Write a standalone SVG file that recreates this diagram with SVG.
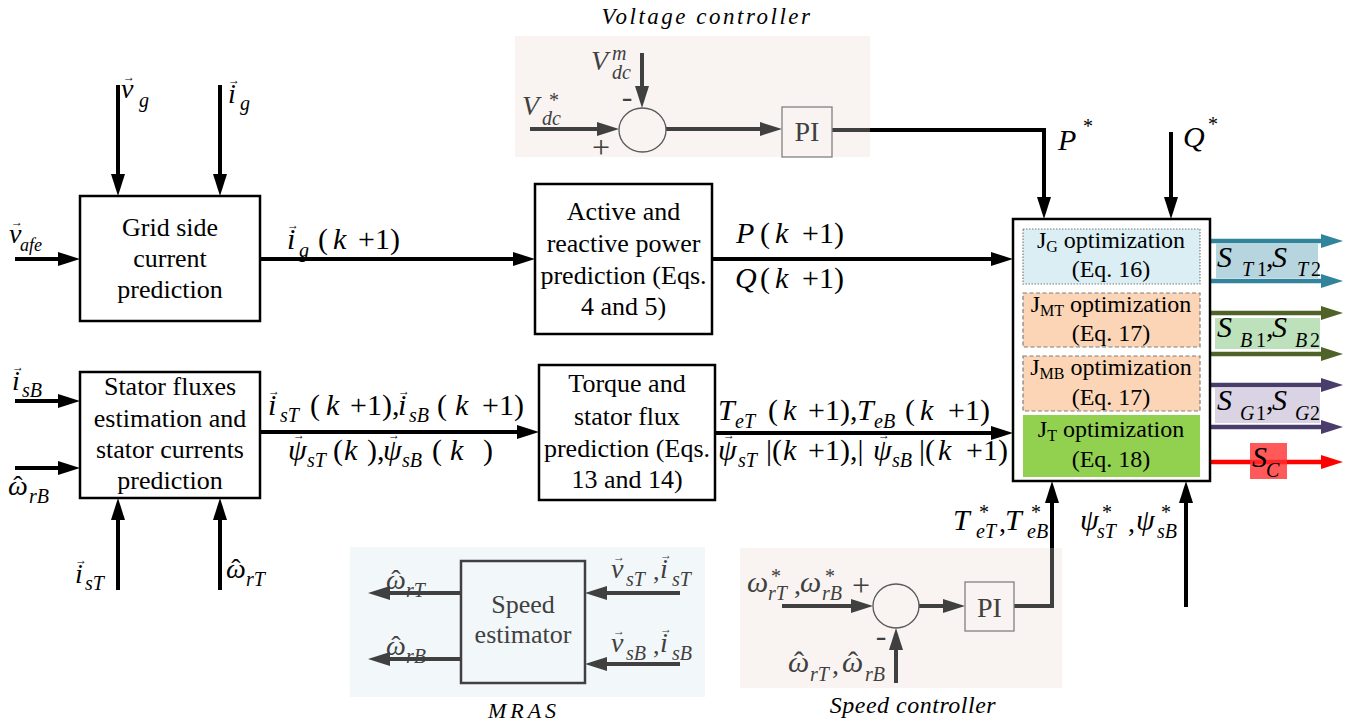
<svg xmlns="http://www.w3.org/2000/svg" width="1362" height="727" viewBox="0 0 1362 727" font-family="Liberation Serif, serif">
<style>
text{font-family:"Liberation Serif","DejaVu Serif",serif;fill:#000}
.bt{font-size:26px;text-anchor:middle}
.ot{font-size:24px;text-anchor:middle}
.m{font-style:italic;font-size:30px}
.mm{font-style:italic;font-size:28px}
.s{font-size:20px}
.u{font-style:normal}
.star{font-style:normal;font-size:20px}
.ar{font-style:normal;font-size:12px;text-anchor:middle}
.hat{font-style:normal;text-anchor:middle}
.g{fill:#404040}
.ti{font-style:italic;text-anchor:middle}
.box{fill:#fff;stroke:#000;stroke-width:2.5}
.k{fill:none;stroke:#000;stroke-width:4}
.kg{fill:none;stroke:#404040;stroke-width:4}
.ct{fill:none;stroke:#31849b;stroke-width:4.5}
.co{fill:none;stroke:#4f6228;stroke-width:4.5}
.cp{fill:none;stroke:#4b3d6b;stroke-width:4.5}
.cr{fill:none;stroke:#ff0000;stroke-width:4.5}
.pi{stroke:#808080;stroke-width:1.3}
.sum{fill:none;stroke:#595959;stroke-width:1.3}
.sub{stroke:#7f7f7f;stroke-width:1.2}
.sign{font-size:32px;text-anchor:middle}
</style>
<defs>
<marker id="mk" markerUnits="userSpaceOnUse" markerWidth="22" markerHeight="14" refX="2" refY="7" orient="auto"><path d="M0,0L22,7L0,14z" fill="#000"/></marker>
<marker id="mg" markerUnits="userSpaceOnUse" markerWidth="22" markerHeight="14" refX="2" refY="7" orient="auto"><path d="M0,0L22,7L0,14z" fill="#404040"/></marker>
<marker id="mt" markerUnits="userSpaceOnUse" markerWidth="22" markerHeight="14" refX="2" refY="7" orient="auto"><path d="M0,0L22,7L0,14z" fill="#31849b"/></marker>
<marker id="mo" markerUnits="userSpaceOnUse" markerWidth="22" markerHeight="14" refX="2" refY="7" orient="auto"><path d="M0,0L22,7L0,14z" fill="#4f6228"/></marker>
<marker id="mp" markerUnits="userSpaceOnUse" markerWidth="22" markerHeight="14" refX="2" refY="7" orient="auto"><path d="M0,0L22,7L0,14z" fill="#4b3d6b"/></marker>
<marker id="mr" markerUnits="userSpaceOnUse" markerWidth="22" markerHeight="14" refX="2" refY="7" orient="auto"><path d="M0,0L22,7L0,14z" fill="#ff0000"/></marker>
</defs>

<!-- controller backgrounds -->
<g id="voltage-controller-bg"><rect x="515" y="36" width="355" height="121" fill="#f9f4f2"/></g>
<g id="speed-controller-bg"><rect x="740" y="548" width="322" height="140" fill="#f9f4f2"/></g>
<g id="mras-bg"><rect x="350" y="547" width="355" height="150" fill="#f2f7fa"/></g>

<!-- connectors -->
<g id="connectors">
<path class="k" d="M118,85V176" marker-end="url(#mk)"/>
<path class="k" d="M220,85V176" marker-end="url(#mk)"/>
<path class="k" d="M15,259H60" marker-end="url(#mk)"/>
<path class="k" d="M260,259H515" marker-end="url(#mk)"/>
<path class="k" d="M712,259H993" marker-end="url(#mk)"/>
<path class="k" d="M15,401H60" marker-end="url(#mk)"/>
<path class="k" d="M15,468H60" marker-end="url(#mk)"/>
<path class="k" d="M118,590V518" marker-end="url(#mk)"/>
<path class="k" d="M220,590V518" marker-end="url(#mk)"/>
<path class="k" d="M260,432H519" marker-end="url(#mk)"/>
<path class="k" d="M715,433H993" marker-end="url(#mk)"/>
<path class="kg" d="M832,130H870"/>
<path class="k" d="M870,130H1044V199" marker-end="url(#mk)"/>
<path class="k" d="M1171,132V199" marker-end="url(#mk)"/>
<path class="kg" d="M1014,606H1052V548"/>
<path class="k" d="M1052,548V501" marker-end="url(#mk)"/>
<path class="k" d="M1186,607V501" marker-end="url(#mk)"/>
<path class="kg" d="M642,53V88" marker-end="url(#mg)"/>
<path class="kg" d="M530,129H599" marker-end="url(#mg)"/>
<path class="kg" d="M666,129H762" marker-end="url(#mg)"/>
<path class="kg" d="M782,606H853" marker-end="url(#mg)"/>
<path class="kg" d="M896,683V648" marker-end="url(#mg)"/>
<path class="kg" d="M919,606H945" marker-end="url(#mg)"/>
<path class="kg" d="M461,593H388" marker-end="url(#mg)"/>
<path class="kg" d="M461,659H388" marker-end="url(#mg)"/>
<path class="kg" d="M680,593H605" marker-end="url(#mg)"/>
<path class="kg" d="M680,664H605" marker-end="url(#mg)"/>
<path class="ct" d="M1208,241H1323" marker-end="url(#mt)"/>
<path class="ct" d="M1208,281H1323" marker-end="url(#mt)"/>
<path class="co" d="M1208,313H1323" marker-end="url(#mo)"/>
<path class="co" d="M1208,354H1323" marker-end="url(#mo)"/>
<path class="cp" d="M1208,385H1323" marker-end="url(#mp)"/>
<path class="cp" d="M1208,427H1323" marker-end="url(#mp)"/>
<path class="cr" d="M1208,462H1323" marker-end="url(#mr)"/>
</g>

<!-- voltage controller -->
<g id="voltage-controller">
<text class="ti" x="707" y="24" font-size="23" letter-spacing="2.5">Voltage controller</text>
<ellipse class="sum" cx="642.5" cy="130" rx="23.5" ry="22"/>
<rect class="pi" x="782" y="107" width="50" height="50" fill="#f9f4f2"/>
<text class="g" x="807" y="141" font-size="28" text-anchor="middle">PI</text>
<text class="mm g" x="591" y="70">V<tspan class="s" x="612" y="60">m</tspan><tspan class="s" x="612" y="79">dc</tspan></text>
<text class="mm g" x="522" y="115">V<tspan class="star" x="549" y="107">*</tspan><tspan class="s" x="542" y="125">dc</tspan></text>
<text class="sign g" x="627" y="107">-</text>
<text class="sign g" x="601" y="158">+</text>
</g>

<!-- grid side -->
<g id="grid-side-current-prediction">
<rect class="box" x="80" y="196" width="180" height="125"/>
<text class="bt" x="170" y="236">Grid side</text>
<text class="bt" x="170" y="267">current</text>
<text class="bt" x="170" y="298">prediction</text>
</g>
<g id="stator-fluxes-estimation">
<rect class="box" x="80" y="372" width="180" height="126"/>
<text class="bt" x="170" y="395">Stator fluxes</text>
<text class="bt" x="170" y="427">estimation and</text>
<text class="bt" x="170" y="458">stator currents</text>
<text class="bt" x="170" y="489">prediction</text>
</g>
<g id="power-prediction">
<rect class="box" x="535" y="184" width="177" height="150"/>
<text class="bt" x="623.5" y="220">Active and</text>
<text class="bt" x="623.5" y="252">reactive power</text>
<text class="bt" x="623.5" y="284">prediction (Eqs.</text>
<text class="bt" x="623.5" y="315">4 and 5)</text>
</g>
<g id="torque-flux-prediction">
<rect class="box" x="539" y="365" width="176" height="135"/>
<text class="bt" x="627" y="392">Torque and</text>
<text class="bt" x="627" y="425">stator flux</text>
<text class="bt" x="627" y="457">prediction (Eqs.</text>
<text class="bt" x="627" y="488">13 and 14)</text>
</g>

<!-- optimization block -->
<g id="optimization">
<rect class="box" x="1013" y="219" width="197" height="262"/>
<rect class="sub" x="1023" y="229" width="177" height="55" fill="#daeef3" stroke-dasharray="1.5,1.5"/>
<rect class="sub" x="1023" y="293" width="177" height="54" fill="#fbd5b5" stroke-dasharray="4,2.5"/>
<rect class="sub" x="1023" y="356" width="177" height="55" fill="#fbd5b5" stroke-dasharray="4,2.5"/>
<rect x="1023" y="415" width="177" height="62" fill="#92d050"/>
<text class="ot" x="1111" y="248">J<tspan font-size="16" dy="4">G</tspan><tspan dy="-4"> optimization</tspan></text>
<text class="ot" x="1111" y="277">(Eq. 16)</text>
<text class="ot" x="1111" y="312">J<tspan font-size="16" dy="4">MT</tspan><tspan dy="-4"> optimization</tspan></text>
<text class="ot" x="1111" y="341">(Eq. 17)</text>
<text class="ot" x="1111" y="375">J<tspan font-size="16" dy="4">MB</tspan><tspan dy="-4"> optimization</tspan></text>
<text class="ot" x="1111" y="405">(Eq. 17)</text>
<text class="ot" x="1111" y="437">J<tspan font-size="16" dy="4">T</tspan><tspan dy="-4"> optimization</tspan></text>
<text class="ot" x="1111" y="467">(Eq. 18)</text>
</g>

<!-- speed controller -->
<g id="speed-controller">
<ellipse class="sum" cx="896" cy="606" rx="23" ry="22"/>
<rect class="pi" x="965" y="582" width="49" height="49" fill="#f9f4f2"/>
<text class="g" x="989.5" y="617" font-size="28" text-anchor="middle">PI</text>
<text class="sign g" x="861" y="596">+</text>
<text class="sign g" x="881" y="646">-</text>
<text class="m g" x="747" y="592">ω<tspan class="star" x="771" y="583">*</tspan><tspan class="s" x="768" y="600">rT</tspan><tspan class="u" x="794" y="594" font-size="28">,</tspan><tspan x="800" y="592">ω</tspan><tspan class="star" x="825" y="583">*</tspan><tspan class="s" x="822" y="600">rB</tspan></text>
<text class="m g" x="788" y="672">ω<tspan class="hat" x="799" y="672">ˆ</tspan><tspan class="s" x="810" y="681">rT</tspan><tspan class="u" x="832" y="674" font-size="28">,</tspan><tspan x="842" y="672">ω</tspan><tspan class="hat" x="853" y="672">ˆ</tspan><tspan class="s" x="865" y="681">rB</tspan></text>
<text class="ti" x="913" y="713" font-size="24" letter-spacing="0.5">Speed controller</text>
</g>

<!-- MRAS -->
<g id="mras-speed-estimator">
<rect x="461" y="561" width="124" height="122" fill="none" stroke="#404040" stroke-width="2.5"/>
<text class="bt g" x="523" y="613">Speed</text>
<text class="bt g" x="523" y="643">estimator</text>
<text class="mm g" x="386" y="589">ω<tspan class="hat" x="396" y="589">ˆ</tspan><tspan class="s" x="406" y="597">rT</tspan></text>
<text class="mm g" x="386" y="655">ω<tspan class="hat" x="396" y="655">ˆ</tspan><tspan class="s" x="406" y="663">rB</tspan></text>
<text class="mm g" x="611" y="578">v<tspan class="ar" x="619" y="561">→</tspan><tspan class="s" x="626" y="586">sT</tspan><tspan class="u" x="653" y="580" font-size="26">,</tspan><tspan x="660" y="578">i</tspan><tspan class="ar" x="666" y="559">→</tspan><tspan class="s" x="672" y="586">sT</tspan></text>
<text class="mm g" x="611" y="652">v<tspan class="ar" x="619" y="635">→</tspan><tspan class="s" x="626" y="660">sB</tspan><tspan class="u" x="653" y="654" font-size="26">,</tspan><tspan x="660" y="652">i</tspan><tspan class="ar" x="666" y="633">→</tspan><tspan class="s" x="672" y="660">sB</tspan></text>
<text class="ti" x="524" y="718" font-size="22" letter-spacing="4">MRAS</text>
</g>

<!-- output label boxes -->
<g id="outputs">
<rect x="1216" y="243" width="102" height="35" fill="#b7d5de"/>
<rect x="1215" y="318" width="105" height="31" fill="#bde2bb"/>
<rect x="1215" y="388" width="105" height="35" fill="#d9d3e4"/>
<rect x="1250" y="443" width="37" height="36" fill="#ff3030" fill-opacity="0.8"/>
<text class="m" x="1217" y="267">S<tspan class="s" x="1242" y="276">T</tspan><tspan class="s u" x="1257">1</tspan><tspan class="u" x="1266" y="267">,</tspan><tspan x="1272">S</tspan><tspan class="s" x="1297" y="276">T</tspan><tspan class="s u" x="1311">2</tspan></text>
<text class="m" x="1217" y="337">S<tspan class="s" x="1240" y="347">B</tspan><tspan class="s u" x="1256">1</tspan><tspan class="u" x="1266" y="337">,</tspan><tspan x="1272">S</tspan><tspan class="s" x="1295" y="347">B</tspan><tspan class="s u" x="1310">2</tspan></text>
<text class="m" x="1217" y="410">S<tspan class="s" x="1240" y="420">G</tspan><tspan class="s u" x="1256">1</tspan><tspan class="u" x="1266" y="410">,</tspan><tspan x="1272">S</tspan><tspan class="s" x="1295" y="420">G</tspan><tspan class="s u" x="1310">2</tspan></text>
<text class="m" x="1252" y="467">S<tspan class="s" x="1266" y="477">C</tspan></text>
</g>

<!-- connector labels -->
<g id="labels">
<text class="mm" x="121" y="98">v<tspan class="ar" x="129" y="81">→</tspan><tspan class="s" x="139" y="107">g</tspan></text>
<text class="mm" x="228" y="103">i<tspan class="ar" x="234" y="84">→</tspan><tspan class="s" x="240" y="110">g</tspan></text>
<text class="mm" x="9" y="243">v<tspan class="ar" x="17" y="226">→</tspan><tspan font-size="18" x="20" y="251">afe</tspan></text>
<text class="mm" x="12" y="390">i<tspan class="ar" x="18" y="371">→</tspan><tspan class="s" x="22" y="397">sB</tspan></text>
<text class="mm" x="8" y="495">ω<tspan class="hat" x="18" y="495">ˆ</tspan><tspan class="s" x="29" y="503">rB</tspan></text>
<text class="mm" x="75" y="583">i<tspan class="ar" x="81" y="564">→</tspan><tspan class="s" x="85" y="590">sT</tspan></text>
<text class="mm" x="226" y="578">ω<tspan class="hat" x="236" y="578">ˆ</tspan><tspan class="s" x="246" y="586">rT</tspan></text>

<text class="m" x="287" y="249">i<tspan class="ar" x="293" y="229">→</tspan><tspan class="s" x="299" y="257">g</tspan><tspan class="u" x="318" y="249">(</tspan><tspan x="333">k</tspan><tspan class="u" x="358">+1)</tspan></text>
<text class="m" x="736" y="243">P<tspan class="u" x="760">(</tspan><tspan x="775">k</tspan><tspan class="u" x="802">+1)</tspan></text>
<text class="m" x="735" y="288">Q<tspan class="u" x="760">(</tspan><tspan x="775">k</tspan><tspan class="u" x="802">+1)</tspan></text>

<text class="m" x="268" y="415">i<tspan class="ar" x="274" y="395">→</tspan><tspan class="s" x="280" y="422">sT</tspan><tspan class="u" x="310" y="415">(</tspan><tspan x="326">k</tspan><tspan class="u" x="350">+1),</tspan><tspan x="398">i</tspan><tspan class="ar" x="404" y="395">→</tspan><tspan class="s" x="409" y="422">sB</tspan><tspan class="u" x="437" y="415">(</tspan><tspan x="455">k</tspan><tspan class="u" x="482">+1)</tspan></text>
<text class="m" x="288" y="460">ψ<tspan class="ar" x="299" y="439">→</tspan><tspan class="s" x="307" y="467">sT</tspan><tspan class="u" x="333" y="460">(</tspan><tspan x="344">k</tspan><tspan class="u" x="367">),</tspan><tspan x="383">ψ</tspan><tspan class="ar" x="394" y="439">→</tspan><tspan class="s" x="402" y="467">sB</tspan><tspan class="u" x="432" y="460">(</tspan><tspan x="450">k</tspan><tspan class="u" x="483">)</tspan></text>

<text class="m" x="718" y="420">T<tspan class="s" x="735" y="428">eT</tspan><tspan class="u" x="768" y="420">(</tspan><tspan x="783">k</tspan><tspan class="u" x="808">+1),</tspan><tspan x="857">T</tspan><tspan class="s" x="874" y="428">eB</tspan><tspan class="u" x="905" y="420">(</tspan><tspan x="920">k</tspan><tspan class="u" x="948">+1)</tspan></text>
<text class="m" x="718" y="460">ψ<tspan class="ar" x="729" y="439">→</tspan><tspan class="s" x="738" y="467">sT</tspan><tspan class="u" x="766" y="460">|(</tspan><tspan x="783">k</tspan><tspan class="u" x="808">+1),|</tspan><tspan x="873">ψ</tspan><tspan class="ar" x="884" y="439">→</tspan><tspan class="s" x="892" y="467">sB</tspan><tspan class="u" x="919" y="460">|(</tspan><tspan x="938">k</tspan><tspan class="u" x="966">+1)</tspan></text>

<text class="m" x="1058" y="150">P<tspan class="star" x="1083" y="133">*</tspan></text>
<text class="m" x="1183" y="147">Q<tspan class="star" x="1208" y="131">*</tspan></text>

<text class="m" x="953" y="530">T<tspan class="star" x="979" y="519">*</tspan><tspan class="s" x="976" y="538">eT</tspan><tspan class="u" x="999" y="532" font-size="28">,</tspan><tspan x="1005" y="530">T</tspan><tspan class="star" x="1031" y="519">*</tspan><tspan class="s" x="1027" y="538">eB</tspan></text>
<text class="m" x="1080" y="530">ψ<tspan class="star" x="1102" y="519">*</tspan><tspan class="s" x="1097" y="538">sT</tspan><tspan class="u" x="1128" y="532" font-size="28">,</tspan><tspan x="1136" y="530">ψ</tspan><tspan class="star" x="1161" y="519">*</tspan><tspan class="s" x="1157" y="538">sB</tspan></text>
</g>
</svg>
